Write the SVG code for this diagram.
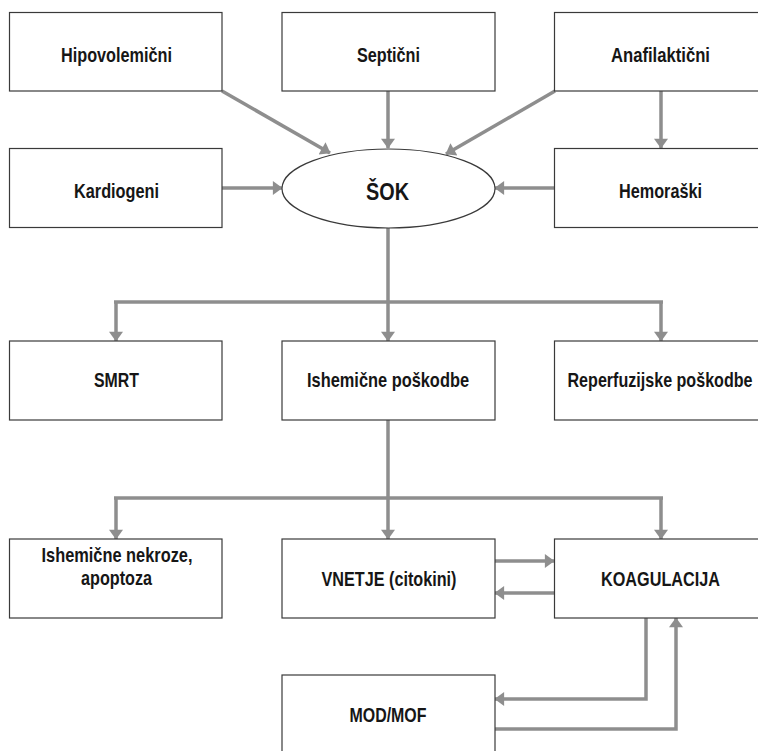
<svg xmlns="http://www.w3.org/2000/svg" width="758" height="751" viewBox="0 0 758 751">
<style>
.box{fill:#fff;stroke:#3a3a3a;stroke-width:1.2}
.t{font-family:"Liberation Sans",Arial,sans-serif;font-weight:bold;font-size:21px;fill:#161616;text-anchor:middle}
.c{fill:none;stroke:#8e8e8e;stroke-width:3.5}
</style>
<defs>
<marker id="ah" markerUnits="userSpaceOnUse" markerWidth="12" markerHeight="14" viewBox="0 0 9 13" refX="8.5" refY="6.5" orient="auto">
<path d="M0,0 L9,6.5 L0,13 z" fill="#8e8e8e"/>
</marker>
</defs>
<rect width="758" height="751" fill="#fff"/>
<g id="connectors">
<line class="c" x1="222" y1="91" x2="330" y2="153" marker-end="url(#ah)"/>
<line class="c" x1="388" y1="91" x2="388" y2="148" marker-end="url(#ah)"/>
<line class="c" x1="555" y1="91" x2="446" y2="154" marker-end="url(#ah)"/>
<line class="c" x1="661" y1="91" x2="661" y2="148" marker-end="url(#ah)"/>
<line class="c" x1="222" y1="188" x2="282" y2="188" marker-end="url(#ah)"/>
<line class="c" x1="554" y1="188" x2="495" y2="188" marker-end="url(#ah)"/>
<path class="c" d="M388,228 V302"/>
<path class="c" d="M114,302 H663"/>
<line class="c" x1="116" y1="302" x2="116" y2="341" marker-end="url(#ah)"/>
<line class="c" x1="388" y1="302" x2="388" y2="341" marker-end="url(#ah)"/>
<line class="c" x1="661" y1="302" x2="661" y2="341" marker-end="url(#ah)"/>
<path class="c" d="M388,420 V498"/>
<path class="c" d="M114,498 H663"/>
<line class="c" x1="116" y1="498" x2="116" y2="539" marker-end="url(#ah)"/>
<line class="c" x1="388" y1="498" x2="388" y2="539" marker-end="url(#ah)"/>
<line class="c" x1="661" y1="498" x2="661" y2="539" marker-end="url(#ah)"/>
<line class="c" x1="495" y1="561" x2="554" y2="561" marker-end="url(#ah)"/>
<line class="c" x1="554" y1="593" x2="495" y2="593" marker-end="url(#ah)"/>
<path class="c" d="M646,618 V699 H495" marker-end="url(#ah)"/>
<path class="c" d="M495,729 H676 V618" marker-end="url(#ah)"/>
</g>
<g id="hipovolemicni"><rect class="box" x="9.5" y="12.5" width="212.5" height="78.5"/><text class="t" x="116.5" y="61.5" textLength="111" lengthAdjust="spacingAndGlyphs">Hipovolemični</text></g>
<g id="septicni"><rect class="box" x="282" y="12.5" width="213" height="78.5"/><text class="t" x="388.5" y="61.5" textLength="63" lengthAdjust="spacingAndGlyphs">Septični</text></g>
<g id="anafilakticni"><rect class="box" x="554.5" y="12.5" width="214" height="78.5"/><text class="t" x="660.5" y="61.5" textLength="99" lengthAdjust="spacingAndGlyphs">Anafilaktični</text></g>
<g id="kardiogeni"><rect class="box" x="9.5" y="148.5" width="212.5" height="79"/><text class="t" x="116.5" y="197.5" textLength="85" lengthAdjust="spacingAndGlyphs">Kardiogeni</text></g>
<g id="sok"><ellipse class="box" cx="388.5" cy="188.5" rx="106.5" ry="39.5"/><text class="t" x="387.5" y="199.5" style="font-size:23px" textLength="43" lengthAdjust="spacingAndGlyphs">ŠOK</text></g>
<g id="hemoraski"><rect class="box" x="554.5" y="148.5" width="214" height="79"/><text class="t" x="660.5" y="197.5" textLength="83" lengthAdjust="spacingAndGlyphs">Hemoraški</text></g>
<g id="smrt"><rect class="box" x="9.5" y="341" width="212.5" height="79"/><text class="t" x="116.5" y="387" textLength="45" lengthAdjust="spacingAndGlyphs">SMRT</text></g>
<g id="ishemicne-poskodbe"><rect class="box" x="282" y="341" width="213" height="79"/><text class="t" x="388" y="387" textLength="162" lengthAdjust="spacingAndGlyphs">Ishemične poškodbe</text></g>
<g id="reperfuzijske"><rect class="box" x="554.5" y="341" width="214" height="79"/><text class="t" x="660" y="387" textLength="185" lengthAdjust="spacingAndGlyphs">Reperfuzijske poškodbe</text></g>
<g id="nekroze"><rect class="box" x="9.5" y="539" width="212.5" height="79"/><text class="t" x="117" y="562" textLength="151" lengthAdjust="spacingAndGlyphs">Ishemične nekroze,</text><text class="t" x="116.5" y="585" textLength="71" lengthAdjust="spacingAndGlyphs">apoptoza</text></g>
<g id="vnetje"><rect class="box" x="282" y="539" width="213" height="79"/><text class="t" x="389" y="586" textLength="135" lengthAdjust="spacingAndGlyphs">VNETJE (citokini)</text></g>
<g id="koagulacija"><rect class="box" x="554.5" y="539" width="214" height="79"/><text class="t" x="660.5" y="586" textLength="119" lengthAdjust="spacingAndGlyphs">KOAGULACIJA</text></g>
<g id="mod-mof"><rect class="box" x="282" y="675" width="213" height="90"/><text class="t" x="388" y="722" textLength="77" lengthAdjust="spacingAndGlyphs">MOD/MOF</text></g>
</svg>
